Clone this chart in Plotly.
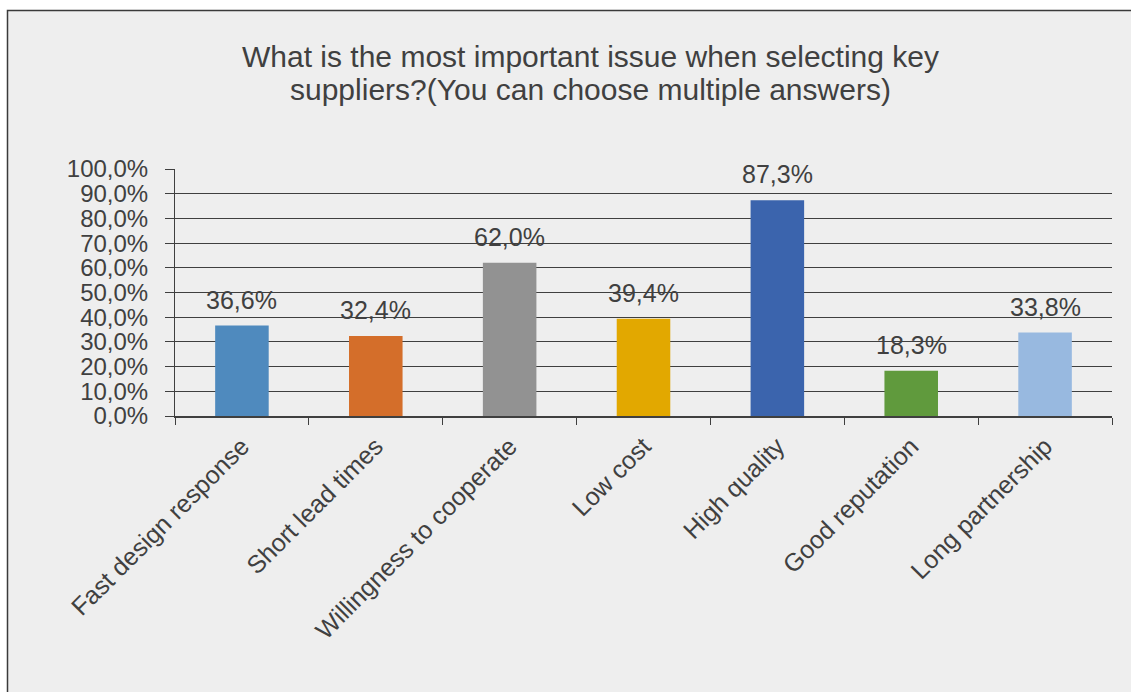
import plotly.graph_objects as go

categories = ["Fast design response", "Short lead times", "Willingness to cooperate",
              "Low cost", "High quality", "Good reputation", "Long partnership"]
values = [36.6, 32.4, 62.0, 39.4, 87.3, 18.3, 33.8]
colors = ["#4f8abe", "#d46e2a", "#929292", "#e2a800", "#3b64ad", "#609a3d", "#98b9e0"]
tick_vals = [0, 10, 20, 30, 40, 50, 60, 70, 80, 90, 100]
tick_text = ["0,0%", "10,0%", "20,0%", "30,0%", "40,0%", "50,0%",
             "60,0%", "70,0%", "80,0%", "90,0%", "100,0%"]
title_lines = ["What is the most important issue when selecting key",
               "suppliers?(You can choose multiple answers)"]

W, H = 1131, 692
L, R, T, B = 175, 19, 169, 276
pw, ph = W - L - R, H - T - B

def px_x(px):
    return (px - L) / pw

def px_y(py):
    return (H - B - py) / ph

txt_color = "#404040"
font_family = "Liberation Sans, Arial, sans-serif"

fig = go.Figure()
fig.add_trace(go.Bar(
    x=categories, y=values, marker=dict(color=colors, line=dict(width=0)),
    width=0.4, showlegend=False, hoverinfo="x+y",
))

for c, v in zip(categories, values):
    fig.add_annotation(x=c, y=v, xref="x", yref="y", text=f"{v:.1f}%".replace(".", ","),
                       showarrow=False, yanchor="bottom", yshift=10,
                       font=dict(size=25, color=txt_color, family=font_family))

for line, cy in zip(title_lines, [57, 89]):
    fig.add_annotation(x=px_x(590), y=px_y(cy), xref="paper", yref="paper", text=line,
                       showarrow=False, xanchor="center", yanchor="middle",
                       font=dict(size=30, color=txt_color, family=font_family))

fig.add_shape(type="rect", xref="paper", yref="paper",
              x0=px_x(7.5), x1=px_x(W + 20), y0=px_y(H + 20), y1=px_y(10.5),
              fillcolor="#eeeeee", line=dict(color="#3a3a3a", width=1.5), layer="below")

fig.update_layout(
    width=W, height=H,
    margin=dict(l=L, r=R, t=T, b=B, autoexpand=False),
    paper_bgcolor="white", plot_bgcolor="rgba(0,0,0,0)",
    font=dict(family=font_family, color=txt_color, size=22),
    bargap=0.6,
)
fig.update_yaxes(range=[0, 100], tickvals=tick_vals, ticktext=tick_text,
                 showgrid=True, gridcolor="#3f3f3f", gridwidth=1,
                 showline=True, linecolor="#3f3f3f", linewidth=1,
                 ticks="outside", ticklen=9, tickcolor="#3f3f3f", ticklabelstandoff=12,
                 zeroline=False, tickfont=dict(size=24, color=txt_color), fixedrange=True)
fig.update_xaxes(tickangle=-45, tickson="boundaries", ticks="outside", ticklen=7,
                 tickcolor="#3f3f3f", showline=True, linecolor="#3f3f3f", linewidth=1.5,
                 ticklabelstandoff=4,
                 tickfont=dict(size=25, color=txt_color), fixedrange=True)

fig.write_html("out.html", config={"displayModeBar": False},
               post_script="document.body.style.margin='0px';")
